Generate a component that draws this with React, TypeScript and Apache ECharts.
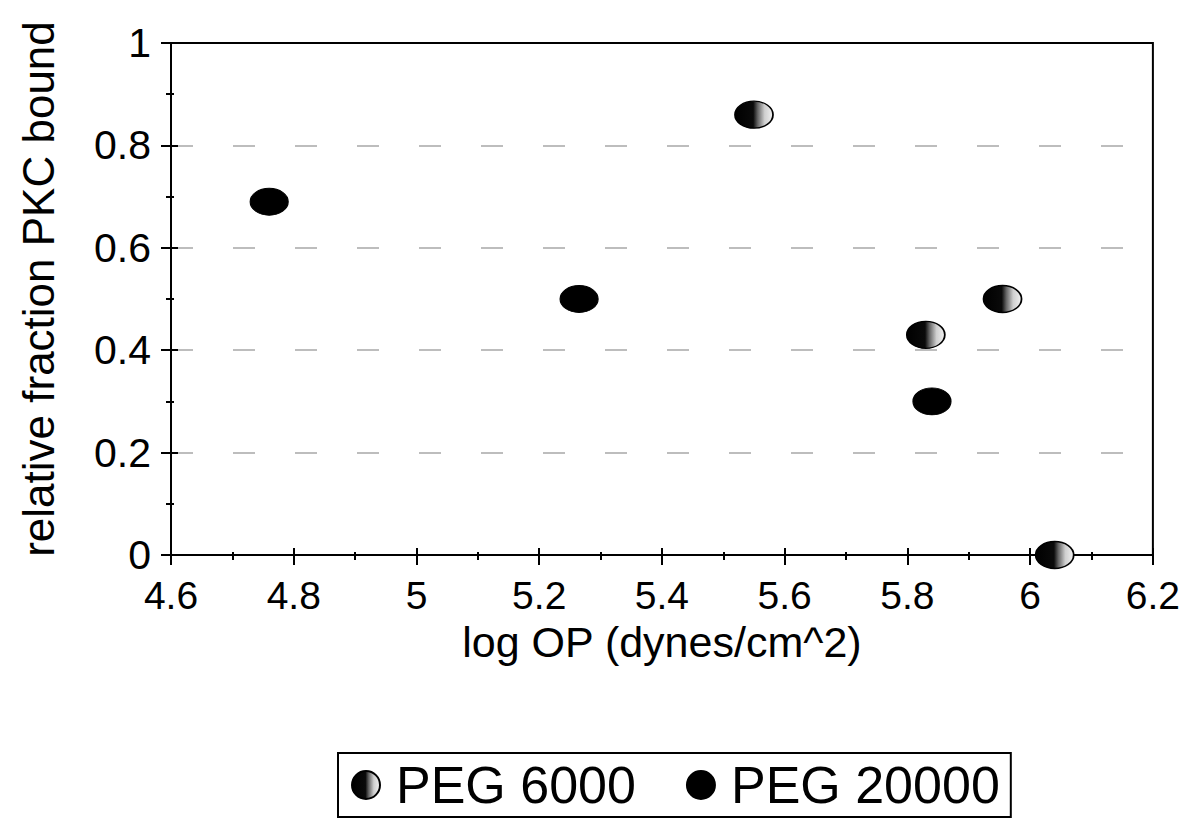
import React, { useEffect, useRef } from "react";
import * as echarts from "echarts";

// ---- data ----
const xMin = 4.6;
const xMax = 6.2;
const xStep = 0.2;
const yMin = 0;
const yMax = 1;
const yStep = 0.2;

const seriesNames = ["PEG 6000", "PEG 20000"];
const peg6000X = [5.55, 5.83, 5.955, 6.04];
const peg6000Y = [0.86, 0.43, 0.5, 0.0];
const peg20000X = [4.76, 5.265, 5.84];
const peg20000Y = [0.69, 0.5, 0.3];

const xTitle = "log OP (dynes/cm^2)";
const yTitle = "relative fraction PKC bound";

const FONT = "'Liberation Sans', Arial, sans-serif";
const ELLIPSE = "path://M0,10a10,10 0 1,0 20,0a10,10 0 1,0 -20,0z";

const zip = (xs: number[], ys: number[]) => xs.map((x, i) => [x, ys[i]]);

const hatched = {
  type: "linear",
  x: 0,
  y: 0,
  x2: 1,
  y2: 0,
  colorStops: [
    { offset: 0, color: "#000" },
    { offset: 0.48, color: "#0a0a0a" },
    { offset: 0.6, color: "#666" },
    { offset: 0.78, color: "#cfcfcf" },
    { offset: 1, color: "#f2f2f2" },
  ],
};

export default function App() {
  const ref = useRef<HTMLDivElement>(null);

  useEffect(() => {
    if (!ref.current) return;
    const chart = echarts.init(ref.current, undefined, { renderer: "svg" });

    const baseX = {
      type: "value",
      min: xMin,
      max: xMax,
      interval: xStep,
      position: "bottom",
      splitLine: { show: false },
    };
    const baseY = {
      type: "value",
      min: yMin,
      max: yMax,
      interval: yStep,
      position: "left",
    };

    chart.setOption({
      animation: false,
      backgroundColor: "#fff",
      grid: {
        left: 171,
        right: 28,
        top: 43,
        bottom: 276,
        show: true,
        borderColor: "#000",
        borderWidth: 2,
        backgroundColor: "transparent",
      },
      legend: {
        data: [
          { name: seriesNames[0], icon: ELLIPSE },
          { name: seriesNames[1], icon: ELLIPSE },
        ],
        left: 338,
        top: 753,
        orient: "horizontal",
        itemWidth: 38,
        itemHeight: 28,
        itemGap: 50,
        padding: [6, 11, 6, 13],
        borderColor: "#000",
        borderWidth: 2,
        backgroundColor: "#fff",
        textStyle: {
          fontSize: 52,
          fontFamily: FONT,
          color: "#000",
          padding: [0, 0, 0, 6],
        },
      },
      xAxis: [
        {
          ...baseX,
          name: xTitle,
          nameLocation: "middle",
          nameGap: 69,
          nameMoveOverlap: false,
          nameTextStyle: { fontSize: 43, lineHeight: 36, fontFamily: FONT, color: "#000" },
          axisLine: { show: true, lineStyle: { color: "#000", width: 2 } },
          axisTick: { show: true, inside: false, length: 10, lineStyle: { color: "#000", width: 2 } },
          minorTick: { show: true, splitNumber: 2, length: 5, lineStyle: { color: "#000", width: 2 } },
          axisLabel: {
            show: true,
            margin: 23,
            fontSize: 39,
            lineHeight: 34,
            fontFamily: FONT,
            color: "#000",
          },
        },
        {
          ...baseX,
          axisLine: { show: false },
          axisTick: { show: true, inside: true, length: 7, lineStyle: { color: "#000", width: 2 } },
          minorTick: { show: true, splitNumber: 2, length: 3, lineStyle: { color: "#000", width: 2 } },
          axisLabel: { show: false },
        },
      ],
      yAxis: [
        {
          ...baseY,
          name: yTitle,
          nameLocation: "middle",
          nameGap: 111,
          nameMoveOverlap: false,
          nameTextStyle: {
            fontSize: 44,
            fontFamily: FONT,
            color: "#000",
            padding: [0, 0, 0, 20],
          },
          axisLine: { show: true, lineStyle: { color: "#000", width: 2 } },
          axisTick: { show: true, inside: false, length: 10, lineStyle: { color: "#000", width: 2 } },
          minorTick: { show: true, splitNumber: 2, length: 5, lineStyle: { color: "#000", width: 2 } },
          axisLabel: {
            show: true,
            margin: 20,
            fontSize: 41,
            fontFamily: FONT,
            color: "#000",
          },
          splitLine: {
            show: true,
            showMinLine: false,
            showMaxLine: false,
            lineStyle: { color: "#a8a8a8", width: 1.5, type: [22, 40] },
          },
        },
        {
          ...baseY,
          axisLine: { show: false },
          axisTick: { show: true, inside: true, length: 7, lineStyle: { color: "#000", width: 2 } },
          minorTick: { show: true, splitNumber: 2, length: 3, lineStyle: { color: "#000", width: 2 } },
          axisLabel: { show: false },
          splitLine: { show: false },
        },
      ],
      series: [
        {
          name: seriesNames[0],
          type: "scatter",
          xAxisIndex: 0,
          yAxisIndex: 0,
          symbol: ELLIPSE,
          symbolSize: [38, 27],
          data: zip(peg6000X, peg6000Y),
          itemStyle: { color: hatched, borderColor: "#000", borderWidth: 1.5, opacity: 1 },
          z: 5,
        },
        {
          name: seriesNames[1],
          type: "scatter",
          xAxisIndex: 0,
          yAxisIndex: 0,
          symbol: ELLIPSE,
          symbolSize: [38, 27],
          data: zip(peg20000X, peg20000Y),
          itemStyle: { color: "#000", borderColor: "#000", borderWidth: 1, opacity: 1 },
          z: 5,
        },
      ],
    });

    return () => chart.dispose();
  }, []);

  return (
    <div
      ref={ref}
      style={{
        position: "fixed",
        left: 0,
        top: 0,
        width: 1183,
        height: 831,
        background: "#fff",
      }}
    />
  );
}
